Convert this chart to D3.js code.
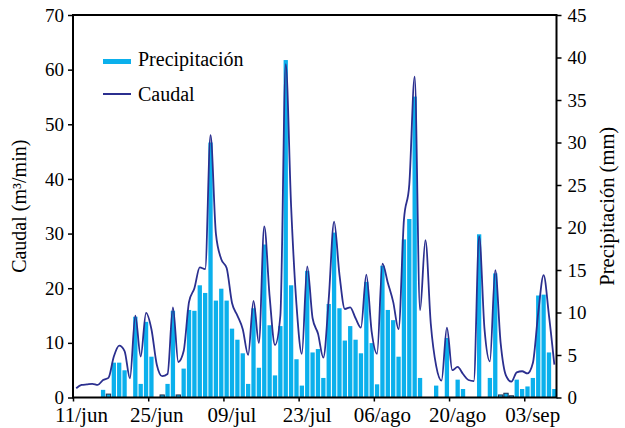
<!DOCTYPE html>
<html>
<head>
<meta charset="utf-8">
<script src="https://cdn.jsdelivr.net/npm/d3@7/dist/d3.min.js"></script>
<style>
  html, body { margin: 0; padding: 0; background: #fff; }
  svg { display: block; }
  text { font-family: "Liberation Serif", "DejaVu Serif", serif; fill: #000; }
</style>
</head>
<body>
<svg id="chart" width="625" height="428"></svg>
<script>
// Daily series, 11/jun to 08/sep (90 days)
const dayCount = 90;

// Daily precipitation (mm)
const precipitacion = [
  0, 0, 0, 0, 0, 0.9, 0.4, 4.1, 4.1, 3.2,
  0, 9.5, 1.6, 8.9, 4.8, 0, 0.3, 1.6, 10.2, 0.3,
  3.4, 10.3, 10.2, 13.2, 12.3, 30, 11.4, 12.8, 11.4, 8.1,
  6.8, 5.2, 1.6, 10.5, 3.5, 18, 8.5, 2.6, 8.4, 39.7,
  13.2, 4.5, 1.4, 14.9, 5.3, 5.7, 2.3, 11, 19.4, 10.5,
  6.7, 8.4, 6.8, 5.2, 13.6, 6.4, 1.55, 15.5, 10.3, 9.1,
  4.8, 18.6, 21, 35.4, 2.3, 0, 0, 1.4, 0, 7,
  0, 2.1, 1.0, 0, 0, 19.2, 0, 2.3, 14.6, 0.3,
  0.5, 0.2, 2.1, 1.0, 1.3, 2.3, 12, 12.1, 5.3, 1.0
];

// Daily stream flow (m3/min)
const caudal = [
  1.7, 2.3, 2.4, 2.5, 2.3, 3.2, 3.6, 7.5, 9.5, 8.5,
  3.5, 15, 7.5, 15.5, 12.5, 6.0, 3.9, 4.3, 16.5, 6.5,
  8.5, 17.5, 20, 23.8, 23.5, 48, 30, 25.3, 23.7, 17.3,
  15, 12.5, 7.8, 17.7, 10, 31.3, 18.5, 9.6, 15, 61,
  35, 17, 8.0, 24, 14.5, 11.7, 7.3, 18, 32.2, 22.5,
  16.2, 16.5, 14.5, 12.8, 22.5, 12, 8, 24.5, 21, 17.5,
  12.5, 32.5, 39, 58.7, 16, 28.8, 13.5, 5.8, 3.1, 12.8,
  5.0, 5.6, 4.3, 3.2, 3.0, 29.5, 12.5, 6.6, 23.3, 10,
  4, 2.9, 4.6, 4.8, 4.4, 6.3, 15.5, 22.4, 15, 6
];

// Date axis ticks (day offset from 11/jun) and their labels
const tickDays = [0, 14, 28, 42, 56, 70, 84];
const tickLabels = ["11/jun", "25/jun", "09/jul", "23/jul", "06/ago", "20/ago", "03/sep"];

const caudalTicks = [0, 10, 20, 30, 40, 50, 60, 70];
const precipTicks = [0, 5, 10, 15, 20, 25, 30, 35, 40, 45];

const svg = d3.select("#chart");
const plot = { left: 73, right: 556.5, top: 15, bottom: 397.5 };

const x = d3.scaleLinear().domain([0, dayCount]).range([plot.left, plot.right]);
const yQ = d3.scaleLinear().domain([0, 70]).range([plot.bottom, plot.top]);
const yP = d3.scaleLinear().domain([0, 45]).range([plot.bottom, plot.top]);
const step = x(1) - x(0);

const barColor = "#0bb0ec";
const lineColor = "#2b2f8f";

// Precipitation bars
svg.append("g")
  .selectAll("rect")
  .data(precipitacion.map((v, i) => ({ day: i, v })).filter(d => d.v > 0))
  .join("rect")
  .attr("x", d => x(d.day + 0.2))
  .attr("width", step * 0.8)
  .attr("y", d => yP(d.v))
  .attr("height", d => yP(0) - yP(d.v))
  .attr("fill", barColor)
  .attr("stroke", d => d.v < 0.6 ? "#1c2f4f" : "none")
  .attr("stroke-width", 1);

// Flow line
const line = d3.line()
  .x((d, i) => x(i + 0.6))
  .y(d => yQ(d))
  .curve(d3.curveMonotoneX);

svg.append("path")
  .datum(caudal)
  .attr("d", line)
  .attr("fill", "none")
  .attr("stroke", lineColor)
  .attr("stroke-width", 1.8)
  .attr("stroke-linejoin", "round");

// Frame
svg.append("rect")
  .attr("x", plot.left).attr("y", plot.top)
  .attr("width", plot.right - plot.left).attr("height", plot.bottom - plot.top)
  .attr("fill", "none").attr("stroke", "#000").attr("stroke-width", 2);

const styleAxis = size => g => {
  g.select(".domain").remove();
  g.selectAll(".tick line").attr("stroke", "#000").attr("stroke-width", 1.5);
  g.selectAll(".tick text")
    .attr("font-size", size).attr("fill", "#000");
};

// Left axis: flow
svg.append("g")
  .attr("transform", `translate(${plot.left},0)`)
  .call(d3.axisLeft(yQ).tickValues(caudalTicks).tickSize(5).tickPadding(4))
  .call(styleAxis(19));

// Right axis: precipitation
svg.append("g")
  .attr("transform", `translate(${plot.right},0)`)
  .call(d3.axisRight(yP).tickValues(precipTicks).tickSize(5).tickPadding(6))
  .call(styleAxis(19));

// Bottom axis: dates (labels sit a little to the right of their tick)
const xAxisG = svg.append("g")
  .attr("transform", `translate(0,${plot.bottom})`)
  .call(d3.axisBottom(x).tickValues(tickDays)
    .tickFormat((d, i) => tickLabels[i]).tickSize(4).tickPadding(4))
  .call(styleAxis(21));
xAxisG.selectAll(".tick text").attr("dx", 8).attr("dy", "0.78em");

// Axis titles
svg.append("text")
  .attr("transform", `translate(26,${(plot.top + plot.bottom) / 2}) rotate(-90)`)
  .attr("text-anchor", "middle")
  .attr("font-size", 20)
  .text("Caudal (m³/min)");

svg.append("text")
  .attr("transform", `translate(614,${(plot.top + plot.bottom) / 2}) rotate(-90)`)
  .attr("text-anchor", "middle")
  .attr("font-size", 20.5)
  .text("Precipitación (mm)");

// Legend
const legend = svg.append("g");
legend.append("rect")
  .attr("x", 103).attr("y", 59).attr("width", 28).attr("height", 5)
  .attr("fill", barColor);
legend.append("text")
  .attr("x", 138).attr("y", 66).attr("font-size", 20)
  .text("Precipitación");
legend.append("line")
  .attr("x1", 103).attr("x2", 131).attr("y1", 94).attr("y2", 94)
  .attr("stroke", lineColor).attr("stroke-width", 2);
legend.append("text")
  .attr("x", 138).attr("y", 101).attr("font-size", 20)
  .text("Caudal");
</script>
</body>
</html>
